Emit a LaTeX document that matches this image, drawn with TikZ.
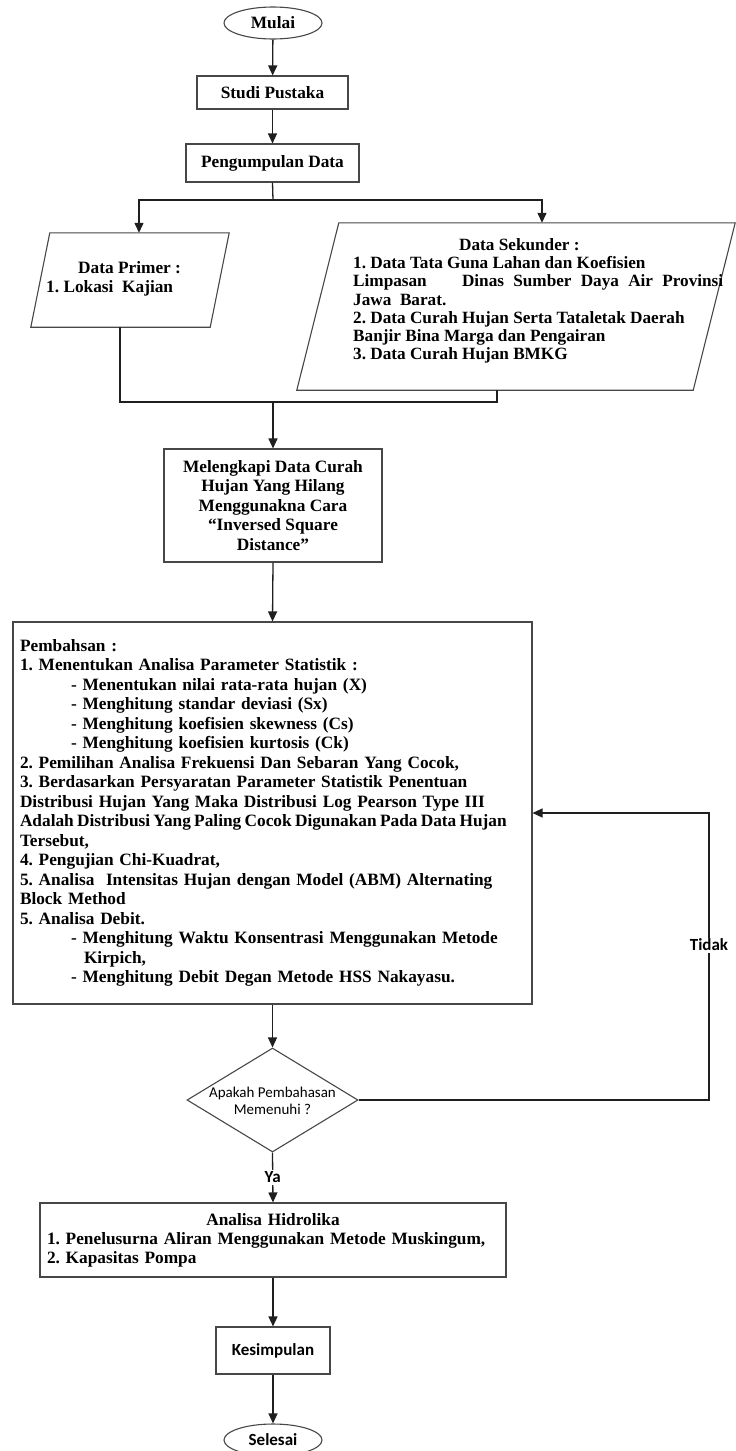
\documentclass[tikz,border=0pt]{standalone}
\usepackage{fontspec}
\setmainfont{Liberation Serif}
\setsansfont{Carlito}
\usetikzlibrary{shapes.geometric,arrows.meta}
\begin{document}
\frenchspacing
\begin{tikzpicture}[x=1pt,y=-1pt,
  serif/.style={font=\fontsize{17.3}{19.5}\selectfont\bfseries},
  box/.style={draw=black!72, line width=1.1pt, rectangle, inner sep=0pt, serif},
  term/.style={draw=black!72, line width=1.1pt, ellipse, inner sep=0pt, minimum width=98pt, minimum height=32pt},
  para/.style={rectangle, inner sep=0pt},
  pline/.style={draw=black!72, line width=1.1pt, line join=miter},
  ln/.style={draw=black!88, line width=1.3pt},
  arr/.style={draw=black!88, line width=1.3pt, -{Triangle[length=10pt,width=9pt]}},
  sanslbl/.style={font=\sffamily\bfseries\fontsize{17}{20}\selectfont},
  lbl/.style={sanslbl, fill=white, inner sep=1.5pt},
  every node/.append style={execute at begin node={\frenchspacing\hyphenpenalty=10000\exhyphenpenalty=10000}}
]
\useasboundingbox (0,0) rectangle (736,1451);

% --- top
\node[term, serif] (mulai) at (273,23) {Mulai};
\node[box, minimum width=151pt, minimum height=33pt] (studi) at (272.5,92.5) {Studi Pustaka};
\node[box, minimum width=173pt, minimum height=38pt] (kumpul) at (272.5,163) {Pengumpulan Data};

% --- data primer (parallelogram)
\node[para, minimum width=179pt, minimum height=94pt] (primer) at (130,280) {};
\draw[pline] ([xshift=9.5pt]primer.north west) -- ([xshift=9.5pt]primer.north east)
  -- ([xshift=-9.5pt]primer.south east) -- ([xshift=-9.5pt]primer.south west) -- cycle;
\node[font=\fontsize{17.3}{19}\selectfont\bfseries, align=left, inner sep=0pt, anchor=west] (primertxt) at (46,279)
  {\hspace*{32pt}Data Primer :\\1. Lokasi\ \ Kajian};

% --- data sekunder (parallelogram)
\node[para, minimum width=396pt, minimum height=167pt] (sek) at (516,306.5) {};
\draw[pline] ([xshift=21pt]sek.north west) -- ([xshift=21pt]sek.north east)
  -- ([xshift=-21pt]sek.south east) -- ([xshift=-21pt]sek.south west) -- cycle;
\node[font=\fontsize{17.2}{18.2}\selectfont\bfseries, align=left, inner sep=0pt, anchor=west] (sektxt) at (353,301)
  {\hspace*{106pt}Data Sekunder :\\
   1. Data Tata Guna Lahan dan Koefisien\\
   \makebox[370pt][s]{Limpasan\hspace{26pt} Dinas Sumber Daya Air Provinsi}\\
   Jawa\ \ Barat.\\
   2. Data Curah Hujan Serta Tataletak Daerah\\
   Banjir Bina Marga dan Pengairan\\
   3. Data Curah Hujan BMKG};

% --- melengkapi
\node[box, minimum width=218pt, minimum height=113pt, align=center] (lengkap) at (273,505.5)
  {Melengkapi Data Curah\\Hujan Yang Hilang\\Menggunakna Cara\\“Inversed Square\\Distance”};

% --- pembahasan
\node[box, minimum width=519pt, minimum height=382pt, text width=505pt, align=left] (bahas) at (272.5,813)
  {Pembahsan :\\
   1. Menentukan Analisa Parameter Statistik :\\
   \hspace*{51pt}- Menentukan nilai rata-rata hujan (X)\\
   \hspace*{51pt}- Menghitung standar deviasi (Sx)\\
   \hspace*{51pt}- Menghitung koefisien skewness (Cs)\\
   \hspace*{51pt}- Menghitung koefisien kurtosis (Ck)\\
   2. Pemilihan Analisa Frekuensi Dan Sebaran Yang Cocok,\\
   3. Berdasarkan Persyaratan Parameter Statistik Penentuan\\
   Distribusi Hujan Yang Maka Distribusi Log Pearson Type III\\
   \mbox{\spaceskip=0.19em Adalah Distribusi Yang Paling Cocok Digunakan Pada Data Hujan}\\
   Tersebut,\\
   4. Pengujian Chi-Kuadrat,\\
   5. Analisa\ \ Intensitas Hujan dengan Model (ABM) Alternating\\
   Block Method\\
   5. Analisa Debit.\\
   \hspace*{51pt}- Menghitung Waktu Konsentrasi Menggunakan Metode\\
   \hspace*{64pt}Kirpich,\\
   \hspace*{51pt}- Menghitung Debit Degan Metode HSS Nakayasu.};

% --- decision
\node[diamond, draw=black!72, line width=1.1pt, inner sep=0pt, minimum width=171pt, minimum height=104pt] (cek) at (272.5,1100) {};
\node[font=\sffamily\fontsize{15}{17}\selectfont, align=center, inner sep=0pt] (cektxt) at (272.5,1100.5)
  {Apakah Pembahasan\\Memenuhi ?};

% --- hidrolika
\node[box, font=\fontsize{17.3}{19}\selectfont\bfseries, minimum width=466pt, minimum height=74pt, text width=452pt, align=left] (hidro) at (273,1240)
  {\makebox[452pt]{Analisa Hidrolika}\\
   1. Penelusurna Aliran Menggunakan Metode Muskingum,\\
   2. Kapasitas Pompa};

\node[box, sanslbl, minimum width=114pt, minimum height=47pt] (simpul) at (273,1350.5) {Kesimpulan};
\node[term, sanslbl] (selesai) at (273,1440) {Selesai};

% --- connectors
\coordinate (split) at (273,200);
\coordinate (join) at (273,402);
\coordinate (ret) at (709,813);

\draw[arr] (mulai) -- (studi);
\draw[arr] (studi) -- (kumpul);
\draw[ln] (kumpul.south) -- (split);
\draw[arr] (split) -| ([xshift=9pt]primer.north);
\draw[arr] (split) -| ([xshift=26pt]sek.north);
\draw[ln] ([xshift=-10pt]primer.south) |- (join);
\draw[ln] (join) -| ([xshift=-19pt]sek.south);
\draw[arr] (join) -- (lengkap.north);
\draw[arr] (lengkap.south) -- (bahas.north);
\draw[arr] (bahas.south) -- (cek.north);
\draw[arr] (cek.south) -- node[lbl]{Ya} (hidro.north);
\draw[arr] (cek.east) -| node[lbl, pos=0.77]{Tidak} (ret) -- (bahas.east);
\draw[arr] (hidro.south) -- (simpul.north);
\draw[arr] (simpul.south) -- (selesai.north);
\end{tikzpicture}
\end{document}
